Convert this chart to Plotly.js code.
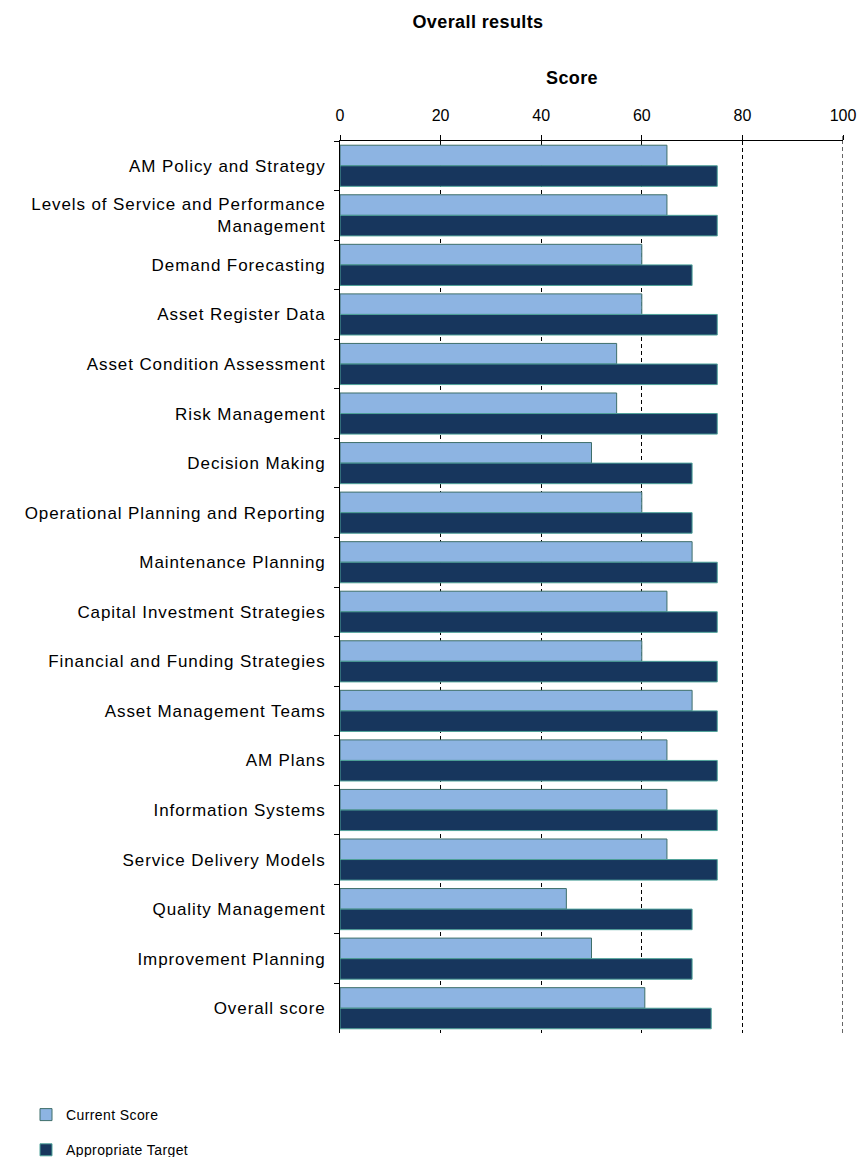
<!DOCTYPE html>
<html>
<head>
<meta charset="utf-8">
<script src="https://cdn.plot.ly/plotly-3.0.1.min.js"></script>
<style>
html,body{margin:0;padding:0;background:#fff;}
#chart{width:862px;height:1157px;}
.ytick text{letter-spacing:0.9px;}
.legendtext{letter-spacing:0.4px;}
.gtitle{letter-spacing:0.4px;}
.annotation-text{letter-spacing:0.4px;}
</style>
</head>
<body>
<div id="chart"></div>
<script>
const categories = [
  "AM Policy and Strategy",
  "Levels of Service and Performance<br>Management",
  "Demand Forecasting",
  "Asset Register Data",
  "Asset Condition Assessment",
  "Risk Management",
  "Decision Making",
  "Operational Planning and Reporting",
  "Maintenance Planning",
  "Capital Investment Strategies",
  "Financial and Funding Strategies",
  "Asset Management Teams",
  "AM Plans",
  "Information Systems",
  "Service Delivery Models",
  "Quality Management",
  "Improvement Planning",
  "Overall score"
];
const currentScore = [65, 65, 60, 60, 55, 55, 50, 60, 70, 65, 60, 70, 65, 65, 65, 45, 50, 60.6];
const appropriateTarget = [75, 75, 70, 75, 75, 75, 70, 70, 75, 75, 75, 75, 75, 75, 75, 70, 70, 73.8];
const xTicks = [0, 20, 40, 60, 80, 100];

const fontFam = "Liberation Sans, Arial, sans-serif";
const xMax = xTicks[xTicks.length - 1];

const traces = [
  {
    type: "bar", orientation: "h", name: "Current Score", legendgroup: "a",
    y: categories, x: currentScore,
    marker: {color: "#8DB4E2", line: {color: "#3E6F6A", width: 1}},
    hoverinfo: "x"
  },
  {
    type: "bar", orientation: "h", name: "Appropriate Target", legendgroup: "b",
    y: categories, x: appropriateTarget,
    marker: {color: "#17365D", line: {color: "#4FA39A", width: 1}},
    hoverinfo: "x"
  }
];

const layout = {
  width: 862, height: 1157,
  paper_bgcolor: "#fff", plot_bgcolor: "#fff",
  margin: {l: 340, r: 19, t: 141, b: 124},
  font: {family: fontFam, color: "#000", size: 16},
  title: {text: "<b>Overall results</b>", x: 478/862, xanchor: "center", y: 1 - 22/1157, yanchor: "middle",
          font: {family: fontFam, size: 18, color: "#000"}},
  barmode: "group",
  bargap: 0.17,
  bargroupgap: 0,
  showlegend: true,
  legend: {orientation: "v", xref: "container", yref: "container",
           x: 26/862, xanchor: "left", y: 1 - 1099/1157, yanchor: "top",
           traceorder: "grouped", font: {family: fontFam, size: 14, color: "#000"},
           tracegroupgap: 14, bgcolor: "rgba(0,0,0,0)"},
  xaxis: {
    side: "top", range: [0, xMax], tickvals: xTicks, ticktext: xTicks.map(String),
    showline: true, linecolor: "#000", linewidth: 1, mirror: false,
    ticks: "outside", ticklen: 5, tickcolor: "#000",
    showgrid: true, gridcolor: "#000", gridwidth: 1.2, griddash: "4px,3px",
    zeroline: false,
    ticklabelstandoff: 8,
    tickfont: {family: fontFam, size: 16, color: "#000"},
    fixedrange: true
  },
  yaxis: {
    type: "category", autorange: "reversed",
    showline: true, linecolor: "#000", linewidth: 1,
    ticks: "outside", ticklen: 5, tickcolor: "#000", tickson: "boundaries",
    showgrid: false, zeroline: false,
    tickfont: {family: fontFam, size: 17, color: "#000"},
    ticklabelstandoff: 10,
    fixedrange: true
  },
  annotations: [{
    text: "<b>Score</b>", xref: "paper", yref: "paper",
    x: (572 - 340) / 503, y: 1 + (141 - 78) / 892, xanchor: "center", yanchor: "middle",
    showarrow: false, font: {family: fontFam, size: 18, color: "#000"}
  }],
  shapes: [{
    type: "line", xref: "x", yref: "paper", x0: xMax, x1: xMax, y0: 0, y1: 1,
    line: {color: "#000", width: 1.2, dash: "4px,3px"}, layer: "below"
  }, {
    type: "line", xref: "x", yref: "paper", x0: xMax, x1: xMax, y0: 1, y1: 1 + 5/892,
    line: {color: "#000", width: 1}
  }]
};

Plotly.newPlot("chart", traces, layout, {displayModeBar: false, staticPlot: true});
</script>
</body>
</html>
